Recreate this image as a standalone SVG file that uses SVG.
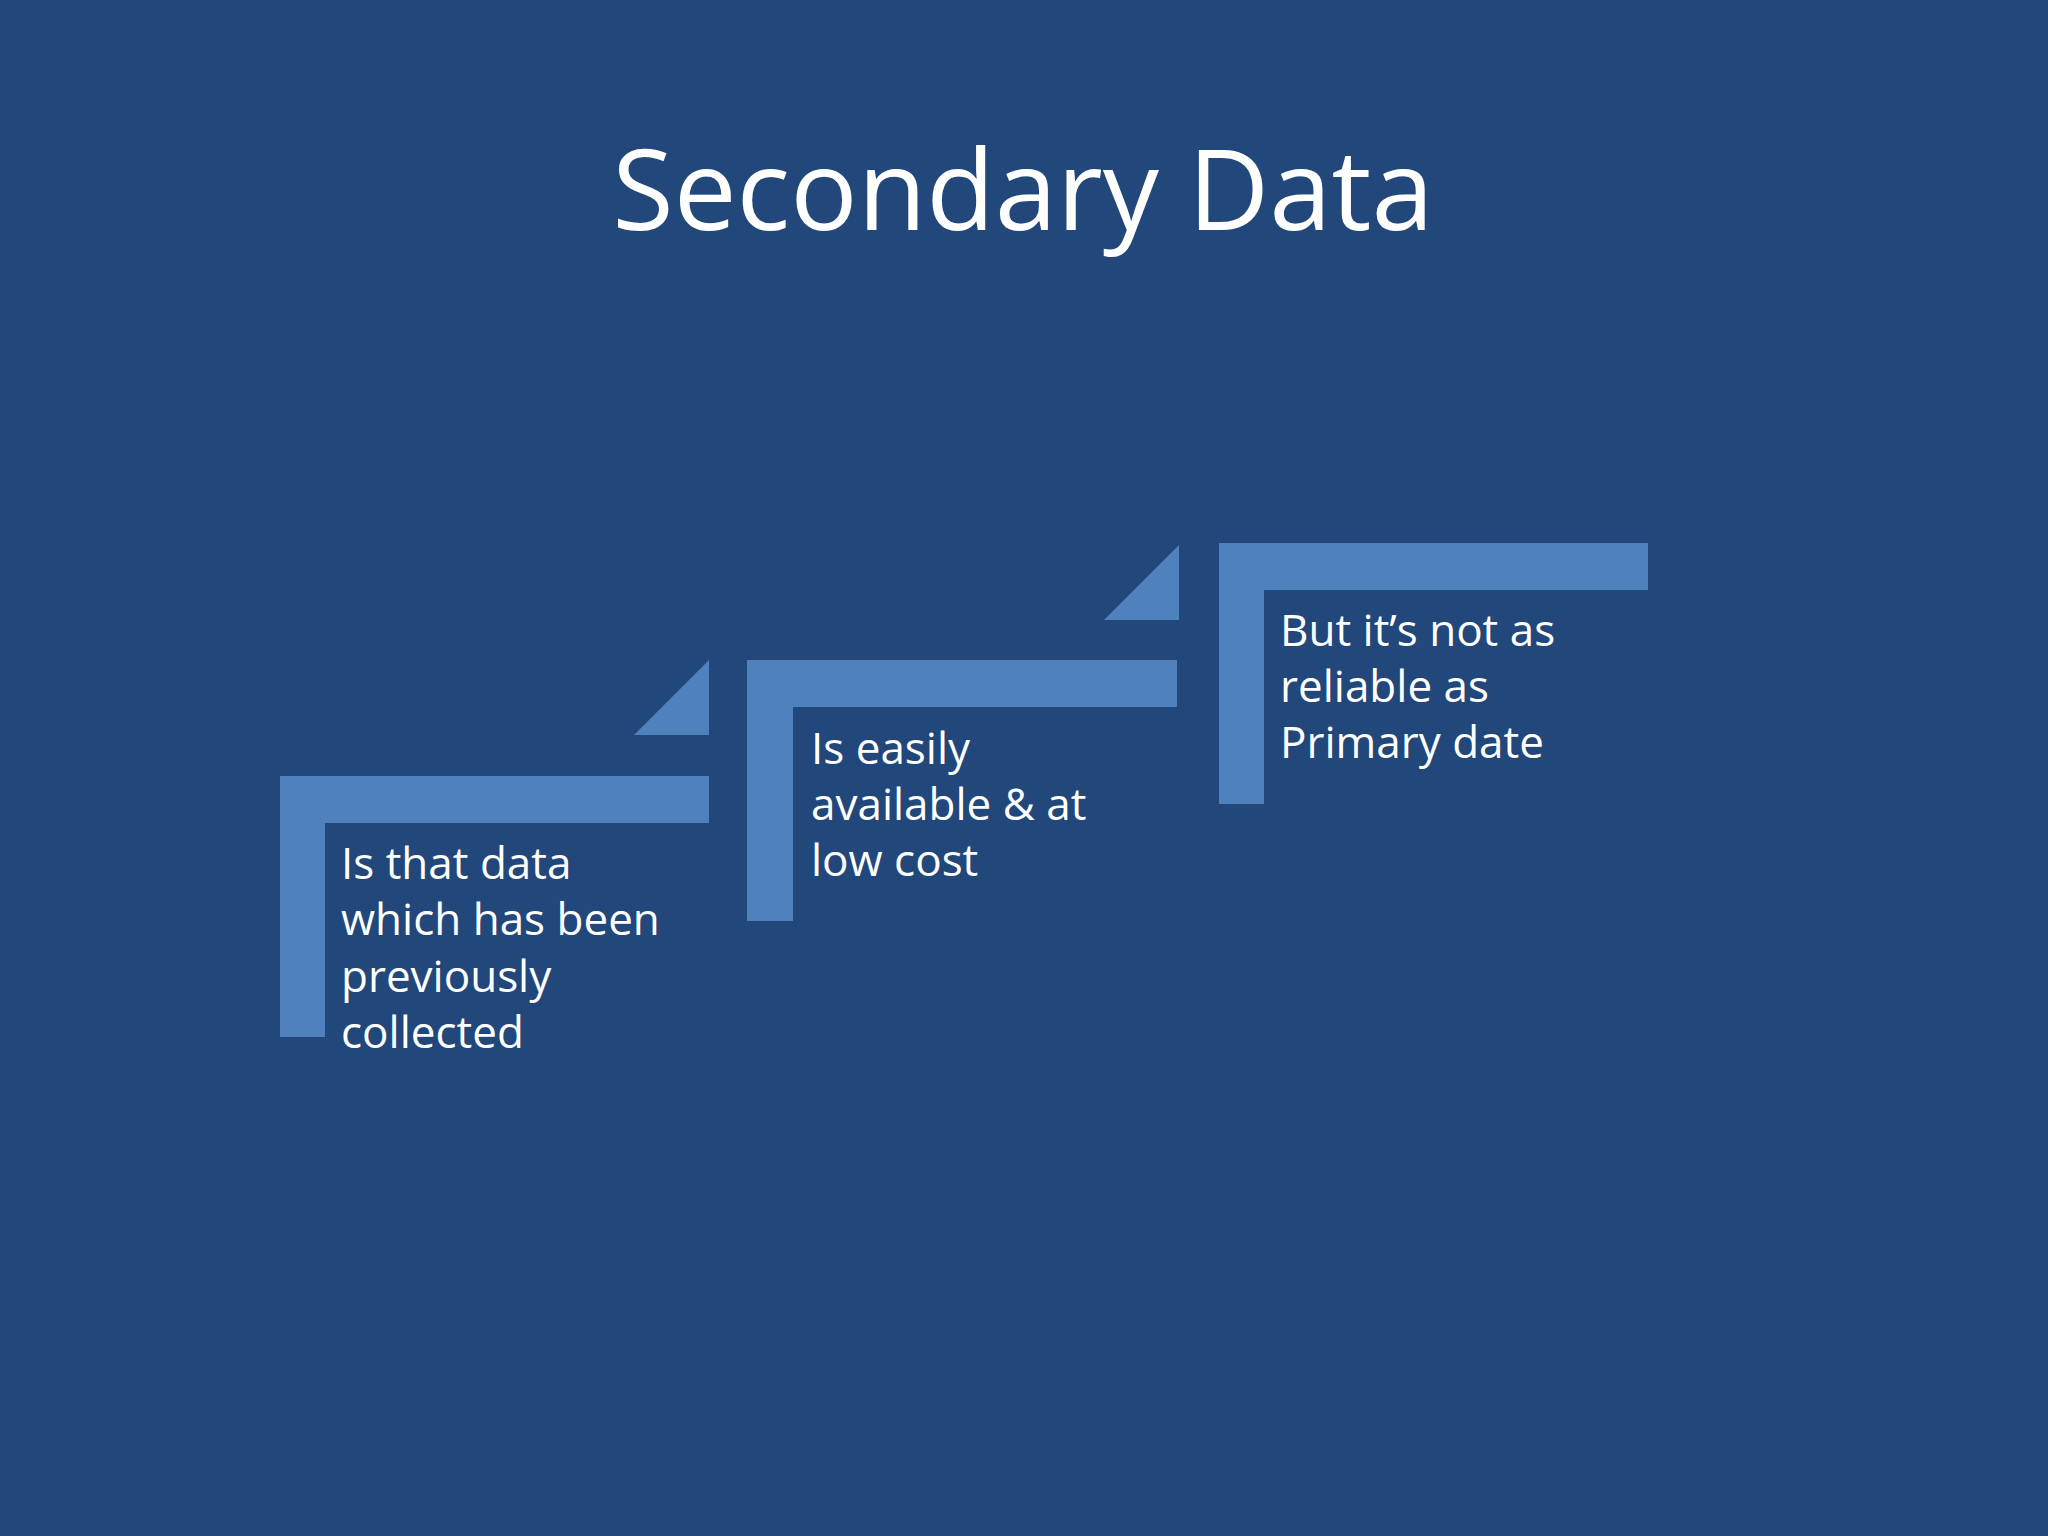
<svg xmlns="http://www.w3.org/2000/svg" width="2048" height="1536" viewBox="0 0 2048 1536">
<style>
.s{fill:#4F81BD}
.t{font-family:"Open Sans","Noto Sans",sans-serif;fill:#fff;font-size:44px}
</style>
<rect width="2048" height="1536" fill="#21477B"/>
<text x="1023" y="230" text-anchor="middle" font-family="Open Sans, Noto Sans, sans-serif" font-size="112" fill="#fff">Secondary Data</text>
<g id="step1">
<path class="s" d="M280 776H709V823H325V1037H280Z"/>
<polygon class="s" points="634,735 709,660 709,735"/>
<text class="t"><tspan x="341" y="879">Is that data</tspan><tspan x="341" y="935">which has been</tspan><tspan x="341" y="992">previously</tspan><tspan x="341" y="1048">collected</tspan></text>
</g>
<g id="step2">
<path class="s" d="M747 660H1177V707H793V921H747Z"/>
<polygon class="s" points="1104,620 1179,545 1179,620"/>
<text class="t"><tspan x="811" y="764">Is easily</tspan><tspan x="811" y="820">available &amp; at</tspan><tspan x="811" y="876">low cost</tspan></text>
</g>
<g id="step3">
<path class="s" d="M1219 543H1648V590H1264V804H1219Z"/>
<text class="t"><tspan x="1280" y="646">But it’s not as</tspan><tspan x="1280" y="702">reliable as</tspan><tspan x="1280" y="758">Primary date</tspan></text>
</g>
<g id="connectors"/>
</svg>
